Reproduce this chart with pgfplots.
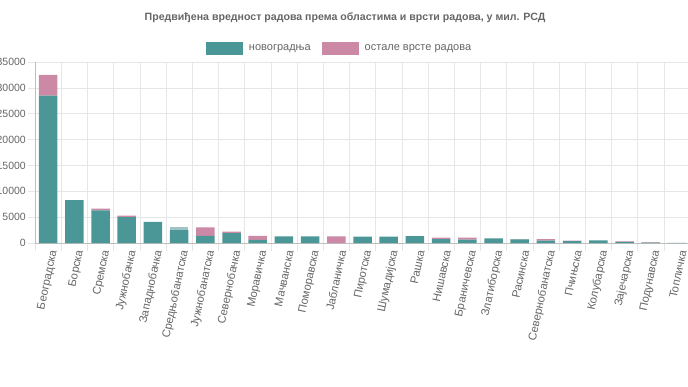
\documentclass[border=0pt]{standalone}
\usepackage{fontspec}
\setmainfont{Liberation Sans}
\usepackage{pgfplots}
\usepackage{pgfplotstable}
\pgfplotsset{compat=1.18}
\definecolor{tealc}{RGB}{75,150,150}
\definecolor{pinkc}{RGB}{204,137,166}
\definecolor{lightc}{RGB}{160,196,196}
\definecolor{txtgray}{RGB}{102,102,102}
\definecolor{gridc}{RGB}{230,230,230}
\definecolor{axc}{RGB}{190,190,190}
\pgfplotstableread[col sep=comma]{
cat,nov,ost,extra
Београдска,28500,4000,0
Борска,8300,0,0
Сремска,6300,350,0
Јужнобачка,5000,300,0
Западнобачка,4100,0,0
Средњобанатска,2500,0,650
Јужнобанатска,1400,1600,0
Севернобачка,1900,300,0
Моравичка,600,800,0
Мачванска,1300,0,0
Поморавска,1300,0,0
Јабланичка,0,1300,0
Пиротска,1250,0,0
Шумадијска,1250,0,0
Рашка,1350,0,0
Нишавска,750,300,0
Браничевска,650,400,0
Златиборска,900,0,0
Расинска,700,50,0
Севернобанатска,450,300,0
Пчињска,350,100,0
Колубарска,500,0,0
Зајечарска,200,130,0
Подунавска,80,80,0
Топличка,30,0,0
}\data
\begin{document}
\begin{tikzpicture}
\useasboundingbox (0,0) rectangle (688pt,-387pt);
\clip (0,0) rectangle (688pt,-387pt);
\node[font=\bfseries\fontsize{10.6}{12}\selectfont, text=txtgray] at (345pt,-18pt)
  {Предвиђена вредност радова према областима и врсти радова, у мил. РСД};
\begin{axis}[
  at={(35pt,-243pt)}, anchor=south west,
  scale only axis, width=655pt, height=181pt,
  ybar stacked, bar width=18.5pt,
  xmin=-0.5, xmax=24.5, ymin=0, ymax=35000,
  ytick={0,5000,...,35000},
  scaled y ticks=false,
  xtick={0,...,24},
  xticklabels from table={\data}{cat},
  minor xtick={-0.5,0.5,...,24.5},
  xminorgrids=true, ymajorgrids=true,
  minor grid style={gridc, line width=0.6pt},
  major grid style={gridc, line width=0.6pt},
  axis x line*=bottom, axis y line*=left,
  axis line style={axc, line width=0.8pt, -},
  tick align=outside,
  major x tick style={draw=none},
  minor x tick style={gridc, line width=0.6pt},
  minor tick length=8pt,
  major tick length=7pt,
  y tick style={gridc, line width=0.6pt},
  tick label style={font=\fontsize{10.5}{13}\selectfont, text=txtgray},
  xticklabel style={font=\fontsize{11.3}{13}\selectfont, rotate=78, anchor=east, inner sep=1pt, yshift=-6pt, xshift=2pt},
  yticklabel style={/pgf/number format/1000 sep={}, /pgf/number format/assume math mode=true, inner sep=2pt},
  legend style={at={(0.465,1.077)}, anchor=center, draw=none, fill=none,
    legend columns=2, font=\fontsize{11}{13}\selectfont, text=txtgray,
    /tikz/every odd column/.append style={column sep=4pt},
    /tikz/every even column/.append style={column sep=9pt},
    inner sep=0pt},
  legend image code/.code={\fill[#1] (0pt,-6.5pt) rectangle (37pt,6.5pt);},
]
\addplot[fill=tealc, draw=none] table[x expr=\coordindex, y=nov] {\data};
\addlegendentry{новоградња}
\addplot[fill=pinkc, draw=none] table[x expr=\coordindex, y=ost] {\data};
\addlegendentry{остале врсте радова}
\addplot[fill=lightc, draw=none, forget plot] table[x expr=\coordindex, y=extra] {\data};
\end{axis}
\end{tikzpicture}
\end{document}
